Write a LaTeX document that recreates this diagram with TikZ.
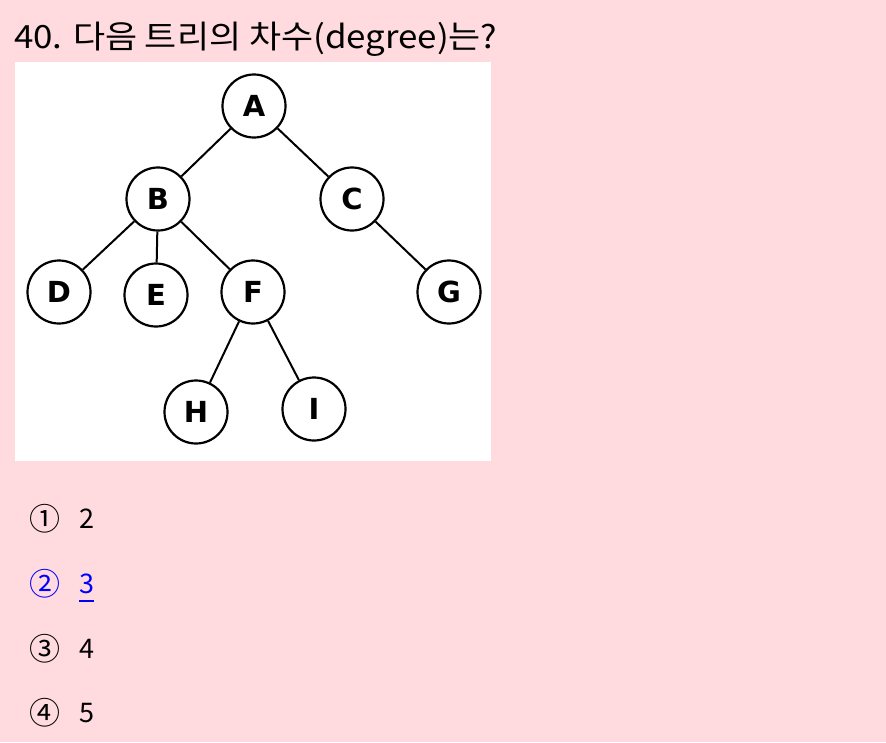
\documentclass[tikz,border=0pt]{standalone}
\usepackage{fontspec}
\setmainfont{Noto Sans CJK KR}
\newfontfamily\vertexfont{DejaVu Sans}
\definecolor{bgpink}{RGB}{255,219,224}
\definecolor{ansblue}{RGB}{0,0,255}
\begin{document}
\begin{tikzpicture}[x=1pt,y=-1pt,
		vertex/.style={draw=black,line width=2.2pt,circle,minimum size=63pt,inner sep=0pt,
			font=\vertexfont\bfseries\fontsize{29}{29}\selectfont},
		edge/.style={draw=black,line width=2pt},
		plain/.style={inner sep=0pt,anchor=base west},
		choice/.style={plain,font=\fontsize{27}{27}\selectfont},
		circnum/.style={plain,font=\fontsize{31}{31}\selectfont}]
	\fill[bgpink] (0,0) rectangle (886,742);
	\useasboundingbox (0,0) rectangle (886,742);
	\node[plain,font=\fontsize{32}{32}\selectfont] (title) at (14,48)
		{\scalebox{1.09}[1]{40. 다음 트리의 차수(degree)는?}};
	\fill[white] (15,62) rectangle (491,461);
	\node[vertex] (A) at (254,106) {A};
	\node[vertex] (B) at (158,199) {B};
	\node[vertex] (C) at (352,199) {C};
	\node[vertex] (D) at (59,292) {D};
	\node[vertex] (E) at (156,295) {E};
	\node[vertex] (F) at (253,292) {F};
	\node[vertex] (G) at (449,292) {G};
	\node[vertex] (H) at (196,412) {H};
	\node[vertex] (I) at (314,409) {I};
	\draw[edge] (A) -- (B);
	\draw[edge] (A) -- (C);
	\draw[edge] (B) -- (D);
	\draw[edge] (B) -- (E);
	\draw[edge] (B) -- (F);
	\draw[edge] (C) -- (G);
	\draw[edge] (F) -- (H);
	\draw[edge] (F) -- (I);
	\node[circnum] (num1) at (29,530) {①};
	\node[choice] (val1) at (79,528) {2};
	\node[circnum] (num2) at (29,595) {\textcolor{ansblue}{②}};
	\node[choice] (val2) at (79,593) {\textcolor{ansblue}{3}};
	\draw[ansblue,line width=2pt] ([yshift=-7pt]val2.south west) -- ([yshift=-7pt]val2.south east);
	\node[circnum] (num3) at (29,660) {③};
	\node[choice] (val3) at (79,658) {4};
	\node[circnum] (num4) at (29,724) {④};
	\node[choice] (val4) at (79,722) {5};
\end{tikzpicture}
\end{document}
